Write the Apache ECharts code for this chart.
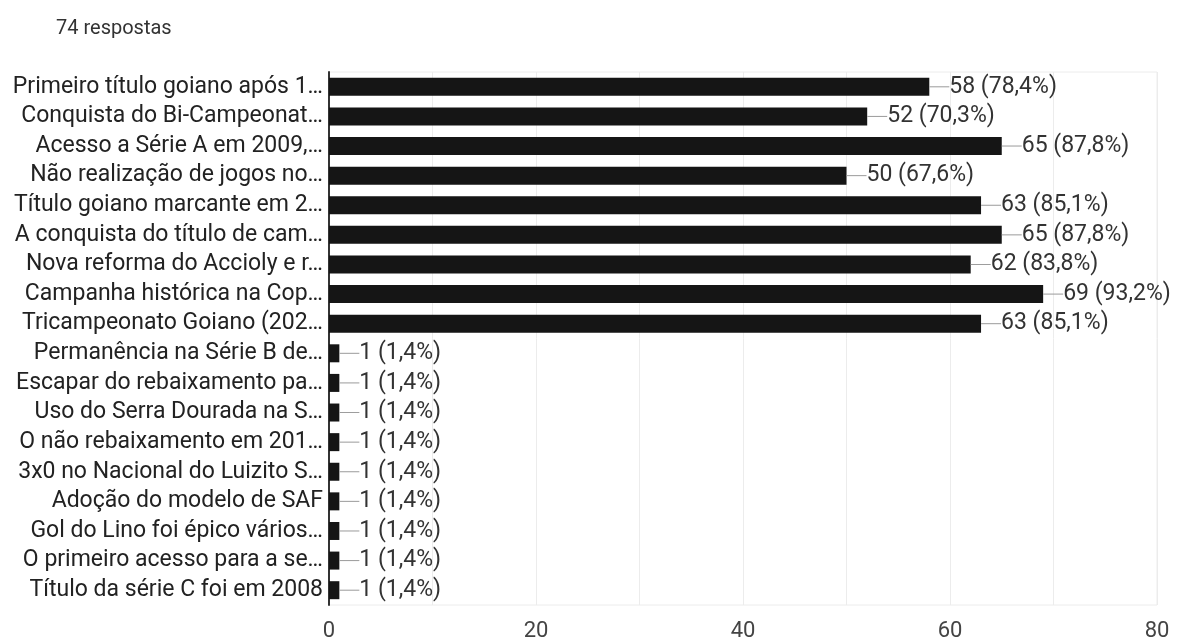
<!DOCTYPE html>
<html>
<head>
<meta charset="utf-8">
<script src="https://cdn.jsdelivr.net/npm/echarts@6/dist/echarts.min.js"></script>
<style>
html,body{margin:0;padding:0;background:#fff;}
#c{width:1177px;height:642px;}
</style>
</head>
<body>
<div id="c"></div>
<script>
var categories = [
  'Primeiro título goiano após 1…',
  'Conquista do Bi-Campeonat…',
  'Acesso a Série A em 2009,…',
  'Não realização de jogos no…',
  'Título goiano marcante em 2…',
  'A conquista do título de cam…',
  'Nova reforma do Accioly e r…',
  'Campanha histórica na Cop…',
  'Tricampeonato Goiano (202…',
  'Permanência na Série B de…',
  'Escapar do rebaixamento pa…',
  'Uso do Serra Dourada na S…',
  'O não rebaixamento em 201…',
  '3x0 no Nacional do Luizito S…',
  'Adoção do modelo de SAF',
  'Gol do Lino foi épico vários…',
  'O primeiro acesso para a se…',
  'Título da série C foi em 2008'
];
var counts = [58, 52, 65, 50, 63, 65, 62, 69, 63, 1, 1, 1, 1, 1, 1, 1, 1, 1];
var percents = ['78,4%', '70,3%', '87,8%', '67,6%', '85,1%', '87,8%', '83,8%', '93,2%', '85,1%',
  '1,4%', '1,4%', '1,4%', '1,4%', '1,4%', '1,4%', '1,4%', '1,4%', '1,4%'];
var xTicks = [0, 20, 40, 60, 80];
var title = '74 respostas';

var chart = echarts.init(document.getElementById('c'), null, {renderer: 'canvas'});
chart.setOption({
  animation: false,
  backgroundColor: '#fff',
  title: {
    text: title,
    left: 51, top: 14,
    textStyle: {fontFamily: 'Roboto', fontSize: 20, fontWeight: 'normal', color: '#333'}
  },
  grid: {
    left: 329, right: 20, top: 72, bottom: 35,
    show: true, borderColor: '#ececec', borderWidth: 1
  },
  xAxis: {
    type: 'value', min: 0, max: 80, interval: 10,
    axisLine: {show: false}, axisTick: {show: false},
    splitLine: {show: true, lineStyle: {color: '#ececec', width: 1}},
    axisLabel: {
      margin: 15, color: '#444', fontFamily: 'Roboto', fontSize: 22,
      formatter: function (v) { return xTicks.indexOf(v) >= 0 ? String(v) : ''; }
    }
  },
  yAxis: {
    type: 'category', inverse: true, data: categories,
    axisLine: {show: true, lineStyle: {color: '#333', width: 2}},
    axisTick: {show: false},
    axisLabel: {interval: 0, margin: 6, color: '#222', fontFamily: 'Roboto', fontSize: 23}
  },
  series: [{
    type: 'bar',
    data: counts,
    barWidth: 18,
    itemStyle: {color: '#151515'},
    label: {
      show: true, position: 'right', distance: 0,
      formatter: function (p) {
        return '{l| }{t|' + counts[p.dataIndex] + ' (' + percents[p.dataIndex] + ')}';
      },
      rich: {
        l: {width: 20, height: 1, backgroundColor: '#9a9a9a', fontSize: 1, lineHeight: 1},
        t: {color: '#333', fontFamily: 'Roboto', fontSize: 23}
      }
    }
  }]
});
</script>
</body>
</html>
